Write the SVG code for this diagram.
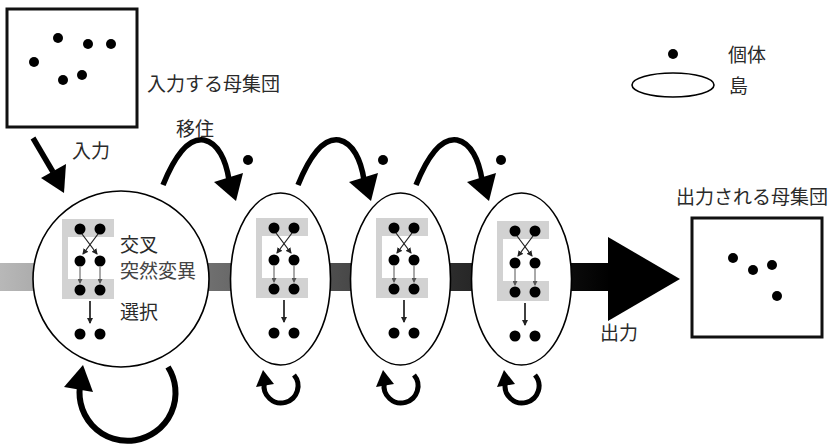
<svg xmlns="http://www.w3.org/2000/svg" xmlns:xlink="http://www.w3.org/1999/xlink" width="836" height="447" viewBox="0 0 836 447">
  <style>
    .lbl { font-family: "Noto Sans CJK JP", "Noto Sans", sans-serif; font-size: 19px; fill: #2a2a2a; }
    .dot { fill: #000; }
    .gd { fill: #000; }
    .island { fill: #fff; stroke: #000; stroke-width: 1.6; }
    .box { fill: #fff; stroke: #111; stroke-width: 3; }
    .thick { fill: none; stroke: #000; stroke-width: 5.5; }
    .head { fill: #000; }
  </style>
  <defs>
    <linearGradient id="flow" x1="0" y1="0" x2="610" y2="0" gradientUnits="userSpaceOnUse">
      <stop offset="0" stop-color="#b8b8b8"/>
      <stop offset="0.35" stop-color="#6e6e6e"/>
      <stop offset="0.7" stop-color="#333"/>
      <stop offset="1" stop-color="#000"/>
    </linearGradient>
    <marker id="ah" markerWidth="6" markerHeight="6" refX="5" refY="3" orient="auto" markerUnits="userSpaceOnUse">
      <path d="M0,0 L6,3 L0,6 z" fill="#222"/>
    </marker>
    <marker id="ahs" markerWidth="5" markerHeight="5" refX="4" refY="2.5" orient="auto" markerUnits="userSpaceOnUse">
      <path d="M0,0 L5,2.5 L0,5 z" fill="#555"/>
    </marker>
    <!-- one generation inside an island: crossover, mutation, selection -->
    <g id="gen">
      <path d="M0,0 H52 V18 H6 V60 H52 V80 H0 Z" fill="#d2d2d2"/>
      <circle class="gd" cx="18" cy="10" r="5.5"/>
      <circle class="gd" cx="38" cy="10" r="5.5"/>
      <line x1="20" y1="15" x2="35" y2="35" stroke="#222" stroke-width="1.2" marker-end="url(#ah)"/>
      <line x1="36" y1="15" x2="21" y2="35" stroke="#222" stroke-width="1.2" marker-end="url(#ah)"/>
      <circle class="gd" cx="18" cy="42" r="5.5"/>
      <circle class="gd" cx="38" cy="42" r="5.5"/>
      <line x1="18" y1="48" x2="18" y2="64" stroke="#555" stroke-width="1" marker-end="url(#ahs)"/>
      <line x1="38" y1="48" x2="38" y2="64" stroke="#555" stroke-width="1" marker-end="url(#ahs)"/>
      <circle class="gd" cx="18" cy="71" r="5.5"/>
      <circle class="gd" cx="38" cy="71" r="5.5"/>
      <line x1="28" y1="82" x2="28" y2="104" stroke="#111" stroke-width="1.6" marker-end="url(#ah)"/>
      <circle class="gd" cx="18" cy="115" r="5.5"/>
      <circle class="gd" cx="38" cy="115" r="5.5"/>
    </g>
    <!-- migration hop with the migrating individual -->
    <g id="hop">
      <path class="thick" d="M163,185 C178,148 192,138 204,140 C218,143 226,160 229,180"/>
      <polygon class="head" points="236,201 214,182 243,173"/>
      <circle class="dot" cx="248" cy="160" r="5"/>
    </g>
    <!-- small self-loop under an island -->
    <g id="loop">
      <path d="M13,-11 A17,17 0 1 1 -16.7,-3" fill="none" stroke="#000" stroke-width="5"/>
      <polygon class="head" points="-18,-16 -25,1 -7,-2"/>
    </g>
  </defs>

  <g id="connectors">
    <!-- evolution flow bar ending in the output arrow -->
    <rect x="0" y="263" width="612" height="28" fill="url(#flow)"/>
    <polygon points="608,237 608,321 680,279" fill="#000"/>
    <!-- input arrow -->
    <line x1="33" y1="138" x2="53" y2="172" stroke="#000" stroke-width="5.5"/>
    <polygon class="head" points="64,193 41,178 66,164"/>
    <!-- migration hops -->
    <use xlink:href="#hop"/>
    <use xlink:href="#hop" transform="translate(135,0)"/>
    <use xlink:href="#hop" transform="translate(253,0)"/>
  </g>

  <g id="input-population">
    <rect class="box" x="7" y="9" width="130" height="118"/>
    <circle class="dot" cx="58" cy="38" r="5"/>
    <circle class="dot" cx="88" cy="44" r="5"/>
    <circle class="dot" cx="111" cy="44" r="5"/>
    <circle class="dot" cx="34" cy="62" r="5"/>
    <circle class="dot" cx="82" cy="75" r="5"/>
    <circle class="dot" cx="63" cy="80" r="5"/>
    <text class="lbl" x="147" y="91">入力する母集団</text>
  </g>

  <text class="lbl" x="72" y="158">入力</text>
  <text class="lbl" x="176" y="136">移住</text>

  <g id="island-main">
    <circle class="island" cx="121" cy="279" r="88"/>
    <use xlink:href="#gen" transform="translate(62,219)"/>
    <text class="lbl" x="120" y="252">交叉</text>
    <text class="lbl" x="120" y="278" style="fill:#444">突然変異</text>
    <text class="lbl" x="120" y="319">選択</text>
    <path d="M168,367 A48,48 0 1 1 81,381" fill="none" stroke="#000" stroke-width="6"/>
    <polygon class="head" points="83,365 64,387 93,392"/>
  </g>

  <g id="island-1">
    <ellipse class="island" cx="280.5" cy="279" rx="50" ry="86"/>
    <use xlink:href="#gen" transform="translate(256,218)"/>
    <use xlink:href="#loop" transform="translate(281,386)"/>
  </g>

  <g id="island-2">
    <ellipse class="island" cx="400.5" cy="279" rx="50" ry="86"/>
    <use xlink:href="#gen" transform="translate(376,218)"/>
    <use xlink:href="#loop" transform="translate(401,386)"/>
  </g>

  <g id="island-3">
    <ellipse class="island" cx="521.5" cy="279" rx="50" ry="86"/>
    <use xlink:href="#gen" transform="translate(497,221)"/>
    <use xlink:href="#loop" transform="translate(522,386)"/>
  </g>

  <text class="lbl" x="600" y="340">出力</text>

  <g id="output-population">
    <text class="lbl" x="676" y="204">出力される母集団</text>
    <rect class="box" x="692" y="218" width="130" height="119"/>
    <circle class="dot" cx="733" cy="258" r="5"/>
    <circle class="dot" cx="753" cy="270" r="5"/>
    <circle class="dot" cx="772" cy="265" r="5"/>
    <circle class="dot" cx="777" cy="296" r="5"/>
  </g>

  <g id="legend">
    <circle class="dot" cx="673" cy="54" r="5"/>
    <text class="lbl" x="728" y="62">個体</text>
    <ellipse class="island" cx="673" cy="85" rx="41" ry="12"/>
    <text class="lbl" x="729" y="93">島</text>
  </g>
</svg>
